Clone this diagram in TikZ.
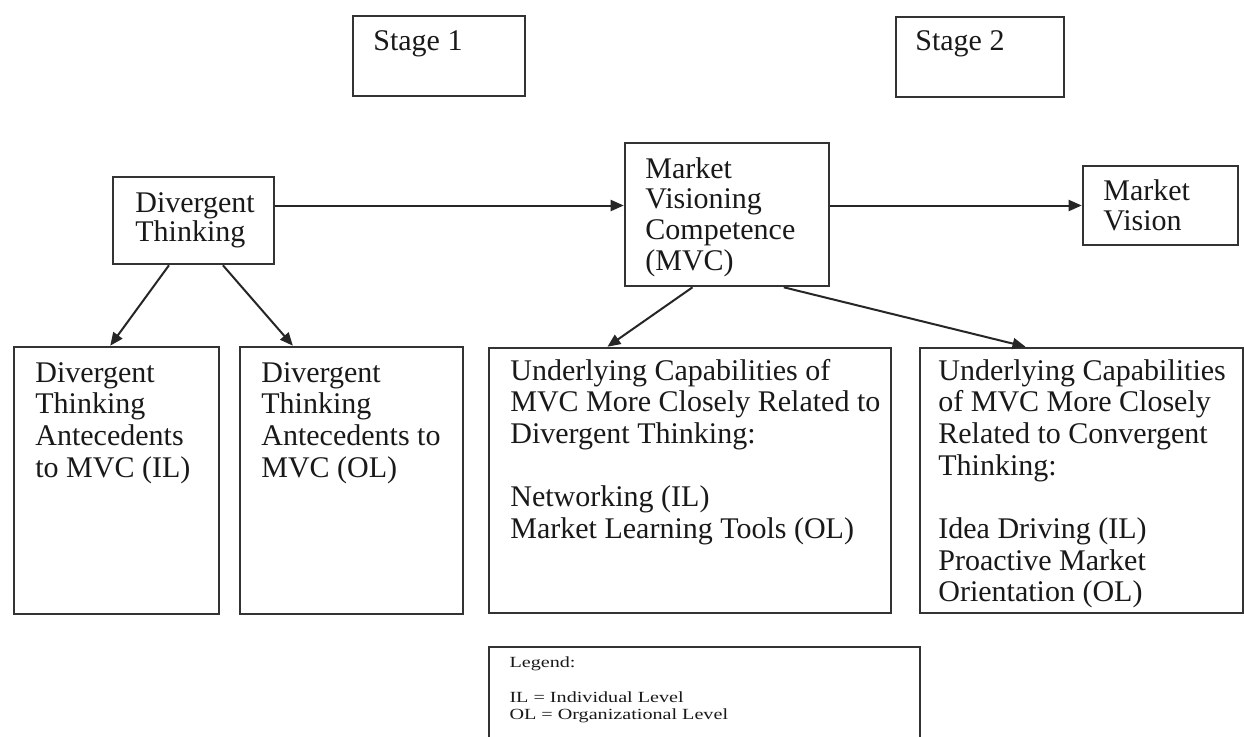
\documentclass[tikz,border=0pt]{standalone}
\usepackage{fontspec}
\setmainfont{Liberation Serif}
\usetikzlibrary{arrows.meta,calc}
\begin{document}
\begin{tikzpicture}[x=0.5pt,y=-0.5pt,
  box/.style={draw=black!80, line width=1.3pt, inner sep=0pt, fill=white},
  arr/.style={draw=black!85, line width=1pt, -{Triangle[length=6.5pt,width=5.5pt]}},
  txt/.style={anchor=base west, inner sep=0pt, text=black!90},
  body/.style={font=\fontsize{15}{15.85}\selectfont}]
\useasboundingbox (0,0) rectangle (1244,736);
\clip (0,0) rectangle (1244,736);
\fill[white] (0,0) rectangle (1244,736);

% stage labels
\node[box, minimum width=86pt, minimum height=40pt] (stage1) at (439,56) {};
\node[box, minimum width=84pt, minimum height=40pt] (stage2) at (980,57) {};
\node[txt,body] (stage1-t) at (373,50) {Stage 1};
\node[txt,body] (stage2-t) at (915,50) {Stage 2};

% upper row
\node[box, minimum width=80.5pt, minimum height=43.5pt] (dt) at (193.5,220.5) {};
\node[box, minimum width=102pt, minimum height=71.5pt] (mvc) at (727,214.5) {};
\node[box, minimum width=77.5pt, minimum height=39.5pt] (mv) at (1160.5,205.5) {};

\node[txt, font=\fontsize{15}{14}\selectfont] (dt-t) at (135,212)
  {\begin{tabular}[t]{@{}l@{}}Divergent\\Thinking\end{tabular}};
\node[txt, font=\fontsize{15}{15.35}\selectfont] (mvc-t) at (645,178)
  {\begin{tabular}[t]{@{}l@{}}Market\\Visioning\\Competence\\(MVC)\end{tabular}};
\node[txt, font=\fontsize{15}{15}\selectfont] (mv-t) at (1103,200)
  {\begin{tabular}[t]{@{}l@{}}Market\\Vision\end{tabular}};

% lower row
\node[box, minimum width=102.5pt, minimum height=133.5pt] (A) at (116.5,480.5) {};
\node[box, minimum width=111.5pt, minimum height=133.5pt] (B) at (351.5,480.5) {};
\node[box, minimum width=201pt, minimum height=132.5pt] (C) at (690,480.5) {};
\node[box, minimum width=161.5pt, minimum height=132.5pt] (D) at (1081.5,480.5) {};

\node[txt,body] (A-t) at (35,382)
  {\begin{tabular}[t]{@{}l@{}}Divergent\\Thinking\\Antecedents\\to MVC (IL)\end{tabular}};
\node[txt,body] (B-t) at (261,382)
  {\begin{tabular}[t]{@{}l@{}}Divergent\\Thinking\\Antecedents to\\MVC (OL)\end{tabular}};
\node[txt,body] (C-t) at (510,380)
  {\begin{tabular}[t]{@{}l@{}}Underlying Capabilities of\\MVC More Closely Related to\\Divergent Thinking:\\ \\Networking (IL)\\Market Learning Tools (OL)\end{tabular}};
\node[txt,body] (D-t) at (938,380)
  {\begin{tabular}[t]{@{}l@{}}Underlying Capabilities\\of MVC More Closely\\Related to Convergent\\Thinking:\\ \\Idea Driving (IL)\\Proactive Market\\Orientation (OL)\end{tabular}};

% legend
\node[box, minimum width=215.5pt, minimum height=71.5pt] (legend) at (704.5,718.5) {};
\node[txt, xscale=1.3, font=\fontsize{7.75}{8.5}\selectfont] (legend-t) at (509,667)
  {\begin{tabular}[t]{@{}l@{}}Legend:\\[9pt]IL = Individual Level\\OL = Organizational Level\end{tabular}};

% connectors
\draw[arr] (dt.east |- mv.west) -- (mvc.west |- mv.west);
\draw[arr] (mvc.east |- mv.west) -- (mv.west);
\draw[arr] ($(dt.south west)!0.35!(dt.south east)$) -- ($(A.north west)!0.47!(A.north east)$);
\draw[arr] ($(dt.south west)!0.68!(dt.south east)$) -- ($(B.north west)!0.24!(B.north east)$);
\draw[arr] ($(mvc.south west)!0.333!(mvc.south east)$) -- ($(C.north west)!0.296!(C.north east)$);
\draw[arr] ($(mvc.south west)!0.775!(mvc.south east)$) -- ($(D.north west)!0.328!(D.north east)$);
\end{tikzpicture}
\end{document}
